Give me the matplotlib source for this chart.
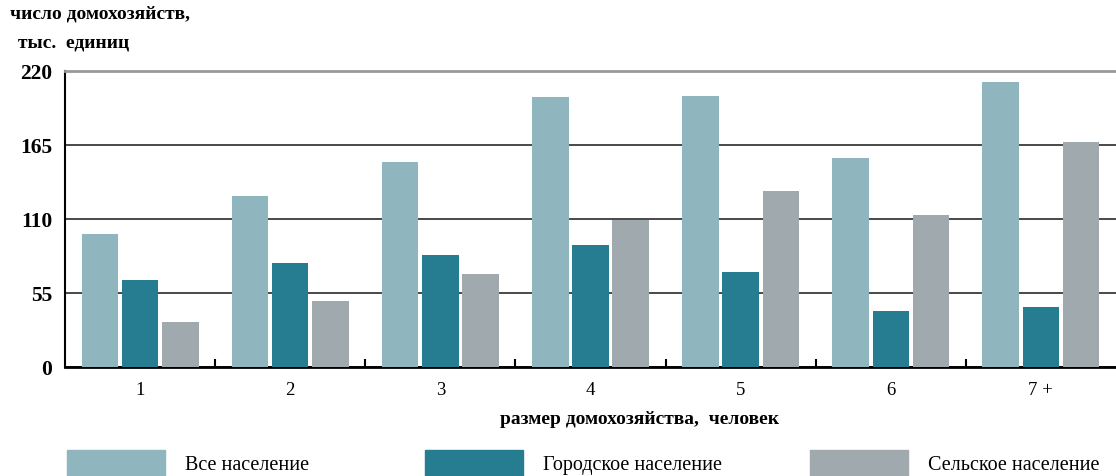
import matplotlib
matplotlib.use("Agg")
import matplotlib.pyplot as plt
from matplotlib.patches import Rectangle
import numpy as np

plt.rcParams['font.family'] = ['Liberation Serif', 'DejaVu Serif']

# размер домохозяйства и число домохозяйств, тыс. единиц
sizes = ["1", "2", "3", "4", "5", "6", "7 +"]
all_pop = [98.7, 126.7, 152.0, 200.7, 201.2, 154.9, 211.8]
urban = [64.6, 77.2, 83.1, 90.8, 70.3, 41.8, 44.8]
rural = [33.6, 49.0, 69.0, 109.1, 130.9, 112.8, 166.8]
series_names = ["Все население", "Городское население", "Сельское население"]
colors = ["#8fb5be", "#267d91", "#a0aaae"]

fig = plt.figure(figsize=(11.16, 4.77), dpi=100)
ax = fig.add_axes([65 / 1116, 109 / 477, 1051 / 1116, 296.3 / 477])

x = np.arange(len(sizes))
step = 0.268
width = 0.243
for i, vals in enumerate([all_pop, urban, rural]):
    ax.bar(x + (i - 1) * step, vals, width=width, color=colors[i], zorder=3)

ax.set_xlim(-0.5, len(sizes) - 0.5)
ax.set_ylim(0, 220)
ax.set_yticks([0, 55, 110, 165, 220])
ax.yaxis.grid(True, color="#3a3a3a", linewidth=1.3, zorder=1)
ax.set_axisbelow(True)

ax.set_xticks(x)
ax.set_xticklabels(sizes, fontsize=13.5)
ax.set_xticks(x[:-1] + 0.5, minor=True)
ax.tick_params(axis="x", which="major", length=0, pad=10)
ax.tick_params(axis="x", which="minor", direction="in", length=6, width=1.5, color="black")
ax.tick_params(axis="y", length=0, pad=9, labelsize=15.5)
for lbl in ax.get_yticklabels():
    lbl.set_fontweight("bold")

ax.spines["right"].set_visible(False)
ax.spines["left"].set_linewidth(1.5)
ax.spines["bottom"].set_linewidth(2)
ax.spines["top"].set_color("#999999")
ax.spines["top"].set_linewidth(2)

fig.text(10 / 1116, 1 - 14 / 477, "число домохозяйств,", fontsize=14, fontweight="bold", va="center")
fig.text(18 / 1116, 1 - 43 / 477, "тыс.  единиц", fontsize=14, fontweight="bold", va="center")
fig.text(640 / 1116, 1 - 420 / 477, "размер домохозяйства,  человек", fontsize=14, fontweight="bold",
         ha="center", va="center")

# легенда
leg_x = [67, 425, 810]
for i, name in enumerate(series_names):
    fig.add_artist(Rectangle((leg_x[i] / 1116, 0), 98 / 1116, 26 / 477,
                             transform=fig.transFigure, color=colors[i]))
    fig.text((leg_x[i] + 118) / 1116, 1 - 466 / 477, name, fontsize=14.5, va="center")

fig.savefig("out.png", dpi=100)
